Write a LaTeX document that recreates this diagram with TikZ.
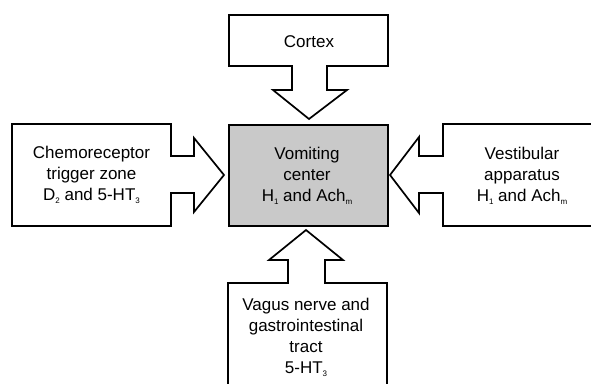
\documentclass[tikz,border=0pt]{standalone}
\usepackage{fontspec}
\setmainfont{Liberation Sans}
\definecolor{centergray}{RGB}{201,201,201}
\newcommand{\sbs}[1]{\raisebox{-3.2pt}{\fontsize{8}{8}\selectfont #1}}
\tikzset{
  outline/.style={draw=black, line width=1.7pt, line join=miter, fill=white},
  lbl/.style={align=center, inner sep=0pt, anchor=base, font=\fontsize{17}{21}\selectfont},
}
\begin{document}
\begin{tikzpicture}[x=1pt,y=-1pt]
\useasboundingbox (0,0) rectangle (591,383);
\clip (0,0) rectangle (591,383);
% Cortex (top)
\draw[outline] (229,15) -- (388,15) -- (388,66) -- (327,66) -- (327,90) -- (347,90) -- (309,119) -- (273,90) -- (292,90) -- (292,66) -- (229,66) -- cycle;
% Chemoreceptor (left)
\draw[outline] (12,124) -- (171,124) -- (171,156) -- (194,156) -- (194,138) -- (224,175) -- (194,212) -- (194,193) -- (171,193) -- (171,226) -- (12,226) -- cycle;
% Vestibular (right)
\draw[outline] (610,124) -- (443,124) -- (443,156) -- (419,156) -- (419,137) -- (390,175) -- (419,213) -- (419,193) -- (443,193) -- (443,226) -- (610,226) -- cycle;
% Vagus (bottom)
\draw[outline] (228,395) -- (228,283) -- (288,283) -- (288,260) -- (269,260) -- (306,230) -- (343,260) -- (325,260) -- (325,283) -- (387,283) -- (387,395) -- cycle;
% Vomiting center
\node[draw=black, line width=1.7pt, fill=centergray, minimum width=159pt, minimum height=101pt, inner sep=0pt, anchor=north west] (vc) at (228,124) {};
% Labels (anchor = baseline of last line)
\node[lbl] (cortex) at (309,47) {Cortex};
\node[lbl] (ctz) at (91.5,200) {Chemoreceptor\\trigger zone\\D\sbs{2} and 5-HT\sbs{3}};
\node[lbl] (vomit) at (307,201) {Vomiting\\center\\H\sbs{1} and Ach\sbs{m}};
\node[lbl] (vest) at (522,201) {Vestibular\\apparatus\\H\sbs{1} and Ach\sbs{m}};
\node[lbl] (vagus) at (306,373) {Vagus nerve and\\gastrointestinal\\tract\\5-HT\sbs{3}};
\end{tikzpicture}
\end{document}
